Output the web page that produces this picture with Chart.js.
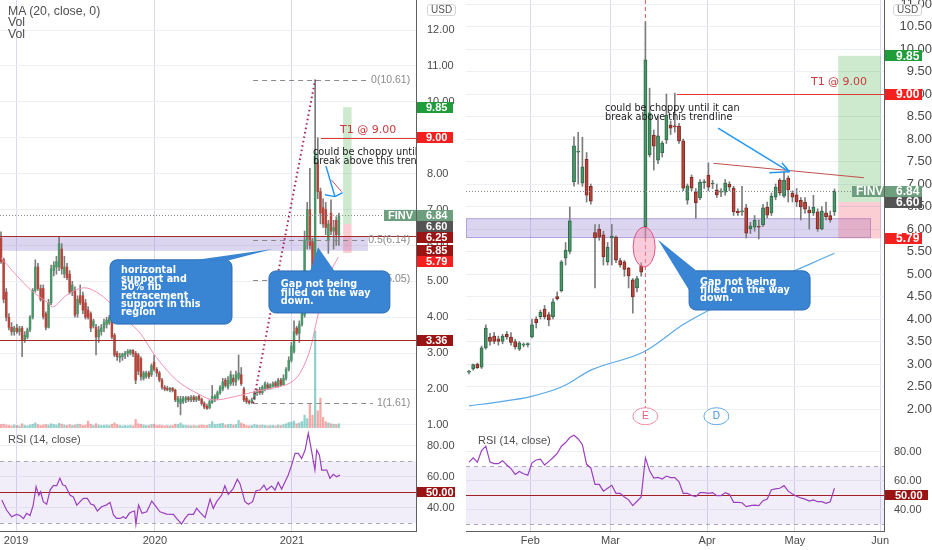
<!DOCTYPE html>
<html>
<head>
<meta charset="utf-8">
<script src="https://cdn.jsdelivr.net/npm/chart.js@4.4.1/dist/chart.umd.min.js"></script>
<style>
  body { margin: 0; background: #fff; width: 932px; height: 550px; overflow: hidden; position: relative; font-family: "Liberation Sans", Arial, sans-serif; }
  canvas { position: absolute; }
  .lbl { position: absolute; color: #4f4f4f; white-space: nowrap; }
  .usd { position: absolute; font-size: 10px; color: #555; border: 1px solid #d4d4d4; border-radius: 3px; padding: 0 3px; line-height: 10px; background: #fff; }
</style>
</head>
<body>
<canvas id="lm" width="466" height="428" style="left:0;top:0"></canvas>
<canvas id="lr" width="466" height="122" style="left:0;top:428px"></canvas>
<canvas id="rm" width="466" height="428" style="left:466px;top:0"></canvas>
<canvas id="rr" width="466" height="122" style="left:466px;top:428px"></canvas>
<div class="lbl" style="left:8px;top:6px;font-size:12.3px;line-height:11.3px">MA (20, close, 0)<br>Vol<br>Vol</div>
<div class="lbl" style="left:8px;top:433px;font-size:11px;line-height:13px">RSI (14, close)</div>
<div class="lbl" style="left:478px;top:434px;font-size:11px;line-height:13px">RSI (14, close)</div>
<div class="usd" style="left:427px;top:4px">USD</div>
<div class="usd" style="left:893px;top:4px">USD</div>
<script>
// ---- left panel: weekly FINV, Nov 2018 - May 2021 ----
const leftOpen = [6.2,5.6,4.7,4.0,3.72,3.6,3.7,3.6,3.7,3.37,
  3.45,3.65,4.0,4.75,5.4,4.8,4.8,4.1,3.72,4.4,
  5.3,5.4,5.4,5.9,5.2,5.4,5.2,4.7,4.75,4.1,
  4.6,4.6,4.4,4.2,4.1,3.75,3.72,3.45,3.6,3.7,
  3.8,3.85,3.9,3.5,3.0,2.88,2.9,2.95,3.0,3.0,
  3.08,3.0,2.95,2.85,2.3,2.35,2.45,2.4,2.75,2.55,
  2.45,2.25,2.05,2.02,1.98,2.02,1.97,1.65,1.6,1.65,
  1.7,1.76,1.7,1.78,1.7,1.8,1.72,1.6,1.52,1.48,
  1.62,1.72,1.75,1.9,2.0,2.25,2.05,2.15,2.3,2.2,
  2.3,2.4,2.0,1.75,1.66,1.62,1.72,1.9,1.98,1.9,
  2.0,2.12,2.03,2.08,2.18,2.08,2.25,2.12,2.3,2.55,
  2.8,3.05,3.7,3.55,3.8,4.06,6.15,7.0,6.1,5.1,
  8.3,7.5,7.05,7.0,6.15,6.9,6.4,6.7,6.3];
const leftHigh = [6.38,5.65,4.8,4.1,3.85,3.75,3.8,3.75,3.75,3.6,
  3.7,4.05,4.8,5.6,5.5,4.9,4.9,4.15,4.5,5.45,
  5.55,5.7,6.24,6.05,5.7,5.5,5.3,5.0,4.85,4.6,
  4.9,4.7,4.5,4.3,4.15,3.95,3.8,3.75,3.8,3.95,
  4.0,4.05,3.95,3.55,3.05,3.0,3.0,3.05,3.1,3.1,
  3.1,3.05,3.0,2.9,2.5,2.5,2.5,2.7,2.95,2.6,
  2.5,2.3,2.1,2.08,2.05,2.05,2.0,1.8,1.8,1.8,
  1.8,1.8,1.82,1.82,1.8,1.85,1.75,1.65,1.58,1.7,
  2.1,1.85,1.95,2.1,2.3,2.3,2.35,2.5,2.4,2.5,
  2.95,2.6,2.05,1.8,1.7,1.75,1.95,2.0,2.05,2.1,
  2.2,2.18,2.15,2.2,2.22,2.3,2.3,2.4,2.6,2.9,
  3.3,3.9,3.75,3.9,4.35,6.4,7.2,8.15,6.2,10.61,
  9.0,7.6,7.3,7.2,6.7,7.27,6.7,6.8,6.9];
const leftLow = [5.5,4.4,3.9,3.65,3.5,3.5,3.55,3.5,2.9,3.3,
  3.4,3.6,3.95,4.7,4.75,4.45,3.95,3.65,3.7,4.35,
  5.15,5.2,5.3,5.2,5.1,5.05,4.65,4.6,4.0,4.0,
  4.35,4.1,3.95,3.95,3.6,3.7,2.95,3.3,3.5,3.6,
  3.7,3.8,3.4,2.9,2.8,2.75,2.8,2.85,2.9,2.95,
  2.9,2.15,2.4,2.25,2.25,2.3,2.3,2.35,2.5,2.35,
  2.2,2.0,1.95,1.95,1.92,1.92,1.65,1.5,1.28,1.6,
  1.62,1.65,1.65,1.65,1.65,1.68,1.55,1.45,1.43,1.45,
  1.6,1.65,1.7,1.85,1.95,2.05,2.0,2.1,2.1,2.1,
  2.25,2.1,1.65,1.6,1.58,1.6,1.7,1.82,1.85,1.85,
  1.95,1.98,2.0,2.05,2.05,2.05,2.08,2.1,2.25,2.5,
  2.75,3.0,3.5,3.3,3.75,4.0,5.9,5.9,4.13,4.9,
  7.3,6.6,6.5,6.3,5.78,6.3,5.9,6.0,6.0];
const leftClose = [5.55,4.5,4.0,3.72,3.6,3.7,3.6,3.68,3.37,3.5,
  3.65,4.0,4.75,5.4,4.8,4.5,4.02,3.72,4.4,5.35,
  5.45,5.55,6.05,5.35,5.4,5.1,4.7,4.9,4.06,4.5,
  4.4,4.2,4.0,4.0,3.7,3.9,3.45,3.65,3.7,3.85,
  3.92,3.98,3.45,2.95,2.9,2.92,2.98,3.0,3.05,3.08,
  2.98,2.25,2.5,2.35,2.45,2.45,2.35,2.65,2.55,2.45,
  2.25,2.05,2.0,1.98,2.02,1.96,1.7,1.75,1.72,1.75,
  1.76,1.7,1.76,1.7,1.76,1.72,1.6,1.5,1.46,1.65,
  1.8,1.8,1.9,2.05,2.2,2.1,2.25,2.4,2.2,2.4,
  2.45,2.15,1.7,1.65,1.62,1.7,1.9,1.95,1.9,2.05,
  2.15,2.03,2.12,2.15,2.08,2.25,2.12,2.3,2.55,2.8,
  3.2,3.6,3.55,3.8,4.3,6.15,7.0,6.0,5.0,8.58,
  7.5,6.9,6.6,6.5,6.6,6.4,6.5,6.3,6.84];
const leftVolume = [0.8,0.9,0.7,0.6,0.5,0.7,0.6,0.5,1.0,0.6,
  0.5,0.7,0.9,1.2,0.8,0.6,0.7,0.8,0.7,1.0,
  0.8,0.7,1.1,0.9,0.7,0.6,0.8,0.6,0.7,0.9,
  0.8,0.6,0.7,1.6,0.9,0.6,1.0,0.7,0.6,0.6,
  0.7,0.6,0.9,1.2,0.8,0.6,0.5,0.6,0.5,0.6,
  0.5,2.0,1.0,0.9,0.7,0.6,0.6,0.8,0.9,0.6,
  0.7,0.6,0.5,0.6,0.5,0.6,0.9,0.8,1.2,0.7,
  0.6,0.6,0.5,0.6,0.5,0.6,0.7,0.6,0.6,0.8,
  1.5,0.8,0.9,1.0,1.1,0.7,0.8,0.9,0.7,0.8,
  1.8,1.2,0.9,0.6,0.5,0.6,0.8,0.7,0.6,0.7,
  0.6,0.5,0.6,0.6,0.5,0.7,0.6,0.8,1.0,1.3,
  1.4,1.6,1.0,1.2,1.5,3.0,2.2,5.5,3.0,22.7,
  4.0,7.0,2.5,1.5,1.2,1.0,0.9,0.8,1.0];
const leftMaIdx = [0,8.5,12.2,17.3,19.8,24.9,31.2,36.2,41.3,47.6,52.7,57.7,62.8,67.8,75.4,80.4,88,95.6,103.2,109.5,113.3,117,119.6,122.1,124.6,127.8];
const leftMaVal = [5.65,4.96,4.70,4.43,4.29,4.62,4.82,4.70,4.40,3.92,3.56,3.0,2.53,2.17,1.84,1.70,1.78,1.92,2.03,2.17,2.45,3.09,3.92,4.68,5.23,5.68];
const leftRsiIdx = [0.3,2.1,4.0,5.9,7.2,8.5,9.7,11,12.2,13.3,14.3,15,16,17.3,18.6,19.8,21.1,22.3,23.4,24.4,26.1,27.4,28.7,31.2,32.7,34,35.2,36.5,38.1,39.8,41.3,42.6,43.8,45.1,46.3,47.3,48.6,49.6,50.6,51.1,52.1,53.4,55.2,57.1,58.3,60.2,62.8,65.3,66.5,68.4,69.7,71,72.9,74.1,75.4,77.3,79.2,80.4,81.7,83.6,84.8,86.1,88,89.5,90.5,92.4,93.7,95.3,96.6,98.1,99.6,100.6,102.5,103.8,105,106.3,107.6,108.8,110.1,111.4,112.6,113.9,115.2,116.4,117.7,118.9,119.6,120.6,121.5,123.4,124.6,125.9,127.1,128.4];
const leftRsiVal = [45,38.5,34.2,35.7,35,33,36.4,35,41.7,53.6,48,50.3,43.9,42.2,51.4,54.2,54.2,59,54.6,54.2,48.2,47,41.7,46,46,42.4,41.7,37.9,40.6,41.7,43.4,35.3,33.1,33.1,34.2,33.1,36.4,37.4,37.9,29.3,41.7,36.4,37.4,44.3,41.7,37.4,35.9,35.7,33.1,29.5,33.1,35.7,35.7,39.6,37,33.6,45.6,39.6,43.9,48.2,54.2,48.6,52.5,58.3,55.7,43.9,42.2,43.9,51,51.4,54.6,51.4,54,51.4,56.4,52,56.8,61.1,67.5,75,75,71.8,77.2,88,76.1,64.3,77.2,74,64.3,64.3,59,61.5,60,61];
const leftYearIdx = [5.7, 58.3, 110.2];
const leftYearLabels = ['2019', '2020', '2021'];
const leftPriceTicks = [1,2,3,4,5,6,7,8,9,10,11,12];
const leftTagValues = [9.85, 9.00, 6.84, 6.60, 6.25, 5.85, 5.79, 3.36];
const fibLevels = [10.61, 6.14, 5.05, 1.61];
const fibNames = ['0', '0.5', '0.618', '1'];

// ---- right panel: daily FINV, Jan - May 2021 ----
const rightOpen = [2.82,2.89,3.0,2.93,3.36,3.6,3.62,3.56,3.5,3.66,
  3.6,3.5,3.33,3.42,3.43,3.6,4.0,4.05,4.22,4.1,
  4.05,4.5,4.63,5.35,5.5,7.05,7.71,7.02,7.55,6.95,
  5.92,6.0,5.87,5.27,5.8,5.82,5.3,5.27,5.13,4.87,
  4.69,5.18,6.05,7.65,8.09,7.53,7.69,7.98,8.31,8.29,
  8.29,7.96,6.64,7.15,6.82,6.69,7.03,7.2,7.0,6.87,
  6.82,6.82,7.0,6.91,6.4,6.38,6.47,6.0,6.04,6.05,
  6.09,6.49,6.36,6.71,7.09,6.73,7.13,6.8,6.76,6.64,
  6.6,6.42,6.36,6.38,6.0,6.36,6.3,6.38];
const rightHigh = [2.86,3.0,3.02,3.4,3.87,3.68,3.7,3.62,3.66,3.72,
  3.7,3.55,3.5,3.47,3.47,4.0,4.05,4.2,4.3,4.15,
  4.45,4.6,5.3,5.7,6.49,8.05,8.15,8.04,7.7,7.0,
  6.1,6.1,5.95,5.7,6.1,5.85,5.35,5.3,5.15,4.9,
  4.95,5.25,10.6,9.13,8.2,8.5,7.95,9.0,8.4,9.02,
  8.35,8.0,7.0,7.2,6.9,7.1,7.1,7.47,7.08,7.0,
  6.9,7.1,7.05,6.95,6.45,6.95,6.55,6.15,6.3,6.2,
  6.55,6.6,6.8,7.0,7.12,7.27,7.18,6.85,6.9,6.7,
  6.7,6.5,6.75,6.45,6.5,6.6,6.4,6.89];
const rightLow = [2.78,2.86,2.9,2.9,3.33,3.42,3.45,3.42,3.45,3.55,
  3.42,3.33,3.3,3.38,3.38,3.58,3.8,4.0,4.0,3.85,
  4.0,4.42,4.6,5.2,5.45,6.95,7.0,6.95,6.6,6.55,
  4.69,5.75,5.2,5.2,5.2,5.25,5.15,4.95,4.69,4.13,
  4.6,4.95,5.8,7.6,7.31,7.45,7.6,7.9,8.1,8.15,
  7.9,6.85,6.55,6.85,6.24,6.65,6.9,6.85,6.9,6.7,
  6.72,6.75,6.85,6.3,6.3,6.3,5.8,5.9,5.95,5.78,
  6.05,6.25,6.3,6.65,6.75,6.7,6.6,6.6,6.5,6.2,
  6.35,6.0,6.3,5.95,5.98,6.2,6.15,6.3];
const rightClose = [2.84,2.99,2.92,3.36,3.8,3.5,3.5,3.5,3.62,3.6,
  3.48,3.38,3.47,3.43,3.44,3.87,3.92,4.15,4.05,3.98,
  4.38,4.45,5.27,5.53,6.18,7.85,7.73,7.38,6.75,6.62,
  5.8,5.82,5.38,5.6,5.84,5.31,5.2,5.1,4.96,4.49,
  4.9,5.04,9.76,8.58,7.84,8.07,7.91,8.53,8.24,8.27,
  7.96,6.91,6.96,6.91,6.58,7.04,7.05,6.93,7.02,6.76,
  6.83,7.02,6.93,6.38,6.36,6.39,5.91,6.07,6.2,6.04,
  6.47,6.31,6.73,6.93,6.8,7.09,6.87,6.71,6.6,6.49,
  6.44,6.36,6.49,6.0,6.4,6.27,6.2,6.84];
const rightRsi = [73,76,73,81,84,73,72,72,74,71,
  68.5,64.5,66.5,65,64,72.5,74.5,75,71,73.5,
  76,79,84,86.5,90,91.5,89,85,71.5,69,
  57.7,57.7,53,55,57,51.5,51.5,49,47,43,
  46,49,76,67,62,62.5,61.4,63.4,62.3,62.3,
  59.5,51.5,51.5,50,49.2,52,52,51.5,52,49.9,
  49.9,52,50.8,45.3,45.2,45,42.3,43,43.4,43,
  46.4,47.6,54,54.5,55,56.8,53,51,49.5,48.3,
  47.5,46.2,47,45.7,45.7,44.6,45.7,55];
const rightMaIdx = [0,7.2,14.4,22.3,29.4,41.4,50.9,58,70.7,87];
const rightMaVal = [2.07,2.16,2.27,2.5,2.88,3.26,3.87,4.24,4.79,5.46];
const rightMonthIdx = [14.6, 33.7, 56.7, 77.6, 97.9];
const rightMonthLabels = ['Feb', 'Mar', 'Apr', 'May', 'Jun'];
const rightPriceTicks = [2,2.5,3,3.5,4,4.5,5,5.5,6,6.5,7,7.5,8,8.5,9,9.5,10,10.5,11];
const rightTagValues = [9.85, 9.00, 6.84, 6.60, 5.79];

const rsiTicks = [40, 60, 80];
const noteSupport = ['horizontal', 'support and', '50% fib', 'retracement', 'support in this', 'region'];
const noteGap = ['Gap not being', 'filled on the way', 'down.'];
const noteChoppy = ['could be choppy until it can', 'break above this trendline'];

const GREEN = '#4b9669', GREEN_EDGE = '#2c6a47', RED = '#b6463b', RED_EDGE = '#7c2922';
const TAG_GREEN = '#1f9d3a', TAG_RED = '#f41f1f', TAG_DARK = '#9a1414', TAG_LAST = '#6d9f7e', TAG_GRAY = '#545454';
const FONT = '"Liberation Sans", Arial, sans-serif';

const X = (c, v) => c.scales.x.getPixelForValue(v);
const Y = (c, v) => c.scales.y.getPixelForValue(v);

function clipArea(c) {
  const a = c.chartArea;
  c.ctx.save();
  c.ctx.beginPath();
  c.ctx.rect(a.left, a.top, a.right - a.left, a.bottom - a.top);
  c.ctx.clip();
}

function box(c, i0, i1, v0, v1, fill, stroke) {
  const ctx = c.ctx, x0 = X(c, i0), x1 = X(c, i1), y0 = Y(c, v0), y1 = Y(c, v1);
  ctx.fillStyle = fill;
  ctx.fillRect(x0, Math.min(y0, y1), x1 - x0, Math.abs(y1 - y0));
  if (stroke) {
    ctx.strokeStyle = stroke;
    ctx.lineWidth = 1;
    ctx.strokeRect(x0 + 0.5, Math.min(y0, y1) + 0.5, x1 - x0 - 1, Math.abs(y1 - y0) - 1);
  }
}

function seg(c, i0, v0, i1, v1, color, w, dash) {
  const ctx = c.ctx;
  ctx.save();
  ctx.strokeStyle = color;
  ctx.lineWidth = w;
  ctx.setLineDash(dash || []);
  ctx.beginPath();
  ctx.moveTo(X(c, i0), Y(c, v0));
  ctx.lineTo(X(c, i1), Y(c, v1));
  ctx.stroke();
  ctx.restore();
}

function hl(c, v, color, w, dash, i0, i1) {
  const ctx = c.ctx, a = c.chartArea, y = Math.round(Y(c, v)) + 0.5;
  const x0 = i0 === undefined ? a.left : X(c, i0);
  const x1 = i1 === undefined ? a.right : X(c, i1);
  ctx.save();
  ctx.strokeStyle = color;
  ctx.lineWidth = w;
  ctx.setLineDash(dash || []);
  ctx.beginPath();
  ctx.moveTo(x0, y);
  ctx.lineTo(x1, y);
  ctx.stroke();
  ctx.restore();
}

function txt(c, lines, i, v, font, color, lh, align) {
  const ctx = c.ctx;
  ctx.save();
  ctx.font = font;
  ctx.fillStyle = color;
  ctx.textAlign = align || 'left';
  ctx.textBaseline = 'middle';
  lines.forEach((s, k) => ctx.fillText(s, X(c, i), Y(c, v) + k * lh));
  ctx.restore();
}

function arrow(c, from, to, heads) {
  seg(c, from[0], from[1], to[0], to[1], '#2196f3', 1.5);
  heads.forEach(h => seg(c, h[0], h[1], to[0], to[1], '#2196f3', 1.5));
}

function callout(c, bx, tail, lines, at, lh) {
  const ctx = c.ctx;
  const x0 = X(c, bx[0]), x1 = X(c, bx[1]), y0 = Y(c, bx[2]), y1 = Y(c, bx[3]);
  ctx.save();
  ctx.fillStyle = '#3a85d3';
  ctx.strokeStyle = '#2c6cb6';
  ctx.lineWidth = 1;
  ctx.beginPath();
  ctx.roundRect(x0, y0, x1 - x0, y1 - y0, 7);
  ctx.fill();
  ctx.stroke();
  ctx.beginPath();
  tail.forEach((p, k) => k ? ctx.lineTo(X(c, p[0]), Y(c, p[1])) : ctx.moveTo(X(c, p[0]), Y(c, p[1])));
  ctx.closePath();
  ctx.fill();
  ctx.restore();
  txt(c, lines, at[0], at[1], 'bold 9.6px "DejaVu Sans"', '#fff', lh);
}

function tags(c, vals, cols, o) {
  const ctx = c.ctx, x0 = c.chartArea.right + 1;
  const ord = vals.map((v, k) => k).sort((a, b) => vals[b] - vals[a]);
  let last = -1e9;
  ctx.save();
  ctx.font = o.font;
  ctx.textBaseline = 'middle';
  ctx.textAlign = 'left';
  ord.forEach(k => {
    const y = Math.max(Y(c, vals[k]), last + o.h);
    last = y;
    const top = Math.round(y - o.h / 2);
    ctx.fillStyle = cols[k];
    ctx.fillRect(x0, top, o.w, o.h);
    ctx.fillStyle = '#fff';
    ctx.fillText(vals[k].toFixed(2), x0 + o.pad, y + 0.5);
    if (vals[k] === o.lastAt) {
      ctx.fillStyle = cols[k];
      ctx.fillRect(x0 - 33, top, 32, o.h);
      ctx.fillStyle = '#fff';
      ctx.fillText('FINV', x0 - 29, y + 0.5);
    }
  });
  ctx.restore();
}

function marker(c, i, v, letter, stroke, color) {
  const ctx = c.ctx, x = X(c, i), y = Y(c, v);
  ctx.save();
  ctx.fillStyle = '#fff';
  ctx.strokeStyle = stroke;
  ctx.lineWidth = 1;
  ctx.beginPath();
  ctx.ellipse(x, y, 12.5, 8.5, 0, 0, Math.PI * 2);
  ctx.fill();
  ctx.stroke();
  ctx.fillStyle = color;
  ctx.font = '10px ' + FONT;
  ctx.textAlign = 'center';
  ctx.textBaseline = 'middle';
  ctx.fillText(letter, x, y + 0.5);
  ctx.restore();
}

function candleSets(open, high, low, close, bodyW, edge) {
  const up = open.map((o, i) => close[i] >= o);
  return [
    {
      type: 'bar', data: open.map((o, i) => ({ x: i, y: [low[i], high[i]] })),
      backgroundColor: '#7d7d7d', barThickness: 1, grouped: false, order: 3, borderSkipped: false
    },
    {
      type: 'bar', data: open.map((o, i) => ({ x: i, y: [o, close[i]] })),
      backgroundColor: up.map(u => u ? GREEN : RED),
      borderColor: up.map(u => u ? GREEN_EDGE : RED_EDGE),
      borderWidth: edge, borderSkipped: false, barThickness: bodyW, minBarLength: 1, grouped: false, order: 2
    }
  ];
}

function xScale(min, max, idx, labels, showLabels, h) {
  return {
    type: 'linear', min, max, bounds: 'data', offset: false,
    grid: { color: '#d9d8f3', drawTicks: false, offset: false },
    border: { display: true, color: '#5f5f5f' },
    ticks: {
      display: showLabels, autoSkip: false, maxRotation: 0, padding: 3, color: '#4a4a4a',
      font: { family: FONT, size: 11 }, callback: (v, k) => labels[k]
    },
    afterBuildTicks: s => { s.ticks = idx.map(v => ({ value: v })); },
    afterFit: s => { s.height = h; s.paddingLeft = 0; s.paddingRight = 0; }
  };
}

function yScale(min, max, ticks, size, pad, align, w) {
  return {
    type: 'linear', position: 'right', min, max, bounds: 'data',
    grid: { color: '#eeeff4', drawTicks: false },
    border: { display: true, color: '#5f5f5f' },
    ticks: {
      padding: pad, crossAlign: align, color: '#4a4a4a',
      font: { family: FONT, size }, callback: v => v.toFixed(2)
    },
    afterBuildTicks: s => { s.ticks = ticks.map(v => ({ value: v })); },
    afterFit: s => { s.width = w; s.paddingTop = 0; s.paddingBottom = 0; }
  };
}

const base = {
  responsive: false, animation: false, devicePixelRatio: 1, events: [],
  layout: { padding: 0 },
  plugins: { legend: { display: false }, tooltip: { enabled: false } }
};

function rsiPlugin(tagW, tagPad) {
  return {
    id: 'rsiBand',
    beforeDatasetsDraw(c) {
      const a = c.chartArea;
      c.ctx.fillStyle = 'rgba(126, 87, 194, 0.1)';
      c.ctx.fillRect(a.left, Y(c, 70), a.right - a.left, Y(c, 30) - Y(c, 70));
      hl(c, 70, '#a9a9b8', 1, [4, 4]);
      hl(c, 30, '#a9a9b8', 1, [4, 4]);
      hl(c, 50, '#a31d24', 1.2);
    },
    afterDraw(c) {
      tags(c, [50], [TAG_DARK], { w: tagW, h: 10, pad: tagPad, font: 'bold 11px ' + FONT });
    }
  };
}

// ---------- left main ----------
const leftUp = leftOpen.map((o, i) => leftClose[i] >= o);
const leftOverlay = {
  id: 'leftOverlay',
  beforeDatasetsDraw(c) {
    clipArea(c);
    box(c, -0.4, 139, 6.25, 5.85, 'rgba(140, 115, 205, 0.3)');
    box(c, 129.6, 132.8, 9.85, 6.6, 'rgba(76, 175, 80, 0.28)');
    box(c, 129.6, 132.8, 6.6, 5.79, 'rgba(242, 80, 100, 0.28)');
    c.ctx.restore();
  },
  afterDatasetsDraw(c) {
    clipArea(c);
    const ctx = c.ctx;
    hl(c, 6.25, '#a52a2a', 1);
    hl(c, 3.36, '#a52a2a', 1);
    hl(c, 6.84, '#8c8c8c', 1, [1, 2]);
    ctx.font = '10.5px ' + FONT;
    fibLevels.forEach((lv, k) => {
      const label = fibNames[k] + '(' + lv.toFixed(2) + ')';
      const wdt = ctx.measureText(label).width;
      const xEnd = X(c, 155) - wdt - 4;
      hl(c, lv, '#8a8a8a', 1, [5, 4], 95.5, c.scales.x.getValueForPixel(xEnd));
      txt(c, [label], 155, lv, '10.5px ' + FONT, '#8a8a8a', 0, 'right');
    });
    seg(c, 95.5, 1.61, 119, 10.61, '#a8205e', 2, [1.5, 3]);
    hl(c, 9.0, '#e53935', 1.2, [], 121.2);
    txt(c, ['T1 @ 9.00'], 128.4, 9.22, '11px "DejaVu Sans"', '#c8393b', 0);
    seg(c, 125.2, 7.82, 129, 7.5, '#c0504d', 1);
    arrow(c, [123.1, 8.21], [126.5, 7.36], [[122.7, 7.41], [129.4, 7.47]]);
    txt(c, noteChoppy, 118.2, 8.58, '9.7px "DejaVu Sans"', '#1c1c1c', 8.5);
    callout(c, [41.3, 87.5, 5.6, 3.81], [[72.3, 5.58], [86, 5.58], [103, 5.9]], noteSupport, [45.5, 5.29], 8.4);
    callout(c, [101.5, 147.3, 5.29, 4.12], [[117, 5.27], [126.5, 5.27], [120.1, 5.95]], noteGap, [106, 4.9], 8.4);
    ctx.restore();
  },
  afterDraw(c) {
    tags(c, leftTagValues, [TAG_GREEN, TAG_RED, TAG_LAST, TAG_GRAY, TAG_DARK, TAG_DARK, TAG_RED, TAG_DARK],
      { w: 36, h: 11, pad: 9, font: 'bold 11px ' + FONT, lastAt: 6.84 });
  }
};

new Chart(document.getElementById('lm'), {
  type: 'bar',
  data: {
    datasets: [
      {
        type: 'bar', yAxisID: 'yv', data: leftVolume.map((v, i) => ({ x: i, y: v })),
        backgroundColor: leftUp.map(u => u ? 'rgba(38, 166, 154, 0.5)' : 'rgba(239, 83, 80, 0.5)'),
        barThickness: 1.6, grouped: false, order: 10
      },
      {
        type: 'line', data: leftMaIdx.map((x, k) => ({ x, y: leftMaVal[k] })),
        borderColor: '#f08fb0', borderWidth: 1, pointRadius: 0, tension: 0.35, order: 1
      },
      ...candleSets(leftOpen, leftHigh, leftLow, leftClose, 1.8, 0)
    ]
  },
  options: {
    ...base,
    scales: {
      x: xScale(-0.38, 157.2, leftYearIdx, leftYearLabels, false, 0),
      y: yScale(0.916, 12.836, leftPriceTicks, 11, 11, 'near', 50),
      yv: { display: false, min: 0, max: 100 }
    }
  },
  plugins: [leftOverlay]
});

// ---------- left RSI ----------
new Chart(document.getElementById('lr'), {
  type: 'line',
  data: {
    datasets: [{
      data: leftRsiIdx.map((x, k) => ({ x, y: leftRsiVal[k] })),
      borderColor: '#9b3fbf', borderWidth: 1.2, pointRadius: 0
    }]
  },
  options: {
    ...base,
    scales: {
      x: xScale(-0.38, 157.2, leftYearIdx, leftYearLabels, true, 19),
      y: yScale(25, 91.4, rsiTicks, 11, 11, 'near', 50)
    }
  },
  plugins: [rsiPlugin(38, 9)]
});

// ---------- right main ----------
const rightOverlay = {
  id: 'rightOverlay',
  beforeDatasetsDraw(c) {
    clipArea(c);
    box(c, -0.7, 95.7, 6.24, 5.8, 'rgba(140, 115, 205, 0.3)', 'rgba(120, 100, 200, 0.45)');
    box(c, 87.9, 98.1, 9.85, 6.6, 'rgba(76, 175, 80, 0.28)');
    box(c, 87.9, 98.1, 6.6, 5.79, 'rgba(242, 80, 100, 0.28)');
    seg(c, 42, c.scales.y.max, 42, 1.97, '#f05a5a', 1, [4, 3]);
    c.ctx.restore();
  },
  afterDatasetsDraw(c) {
    clipArea(c);
    const ctx = c.ctx;
    hl(c, 6.84, '#8c8c8c', 1, [1, 2]);
    hl(c, 9.0, '#e53935', 1.2, [], 49.5);
    txt(c, ['T1 @ 9.00'], 81.4, 9.27, '11px "DejaVu Sans"', '#c8393b', 0);
    seg(c, 58.2, 7.46, 94, 7.14, '#c0504d', 1);
    arrow(c, [59.3, 8.24], [76.3, 7.27], [[71.5, 7.25], [74.5, 7.47]]);
    txt(c, noteChoppy, 32.4, 8.67, '9.7px "DejaVu Sans"', '#1c1c1c', 8.5);
    ctx.save();
    ctx.fillStyle = 'rgba(244, 143, 177, 0.45)';
    ctx.strokeStyle = '#e0557f';
    ctx.beginPath();
    ctx.ellipse(X(c, 41.7), Y(c, 5.6), 11, 20, 0, 0, Math.PI * 2);
    ctx.fill();
    ctx.stroke();
    ctx.restore();
    callout(c, [52.4, 81.2, 5.07, 4.2], [[54.3, 5.06], [52.4, 4.64], [45, 5.76]], noteGap, [55, 4.82], 8.2);
    marker(c, 42, 1.84, 'E', '#ef8aa0', '#e0607a');
    marker(c, 58.9, 1.84, 'D', '#62a8e5', '#3d8fd9');
    ctx.restore();
  },
  afterDraw(c) {
    tags(c, rightTagValues, [TAG_GREEN, TAG_RED, TAG_LAST, TAG_GRAY, TAG_RED],
      { w: 37, h: 11, pad: 11, font: 'bold 12px ' + FONT, lastAt: 6.84 });
  }
};

new Chart(document.getElementById('rm'), {
  type: 'bar',
  data: {
    datasets: [
      {
        type: 'line', data: rightMaIdx.map((x, k) => ({ x, y: rightMaVal[k] })),
        borderColor: '#5aa9e6', borderWidth: 1.2, pointRadius: 0, tension: 0.35, order: 1
      },
      ...candleSets(rightOpen, rightHigh, rightLow, rightClose, 3.2, 1)
    ]
  },
  options: {
    ...base,
    scales: {
      x: xScale(-0.71, 98.8, rightMonthIdx, rightMonthLabels, false, 0),
      y: yScale(1.578, 11.089, rightPriceTicks, 13, 4, 'far', 48)
    }
  },
  plugins: [rightOverlay]
});

// ---------- right RSI ----------
new Chart(document.getElementById('rr'), {
  type: 'line',
  data: {
    datasets: [{
      data: rightRsi.map((v, i) => ({ x: i, y: v })),
      borderColor: '#9b3fbf', borderWidth: 1.2, pointRadius: 0
    }]
  },
  options: {
    ...base,
    scales: {
      x: xScale(-0.71, 98.8, rightMonthIdx, rightMonthLabels, true, 19),
      y: yScale(25.5, 96.55, rsiTicks, 11, 10, 'near', 48)
    }
  },
  plugins: [rsiPlugin(43, 10)]
});
</script>
</body>
</html>
